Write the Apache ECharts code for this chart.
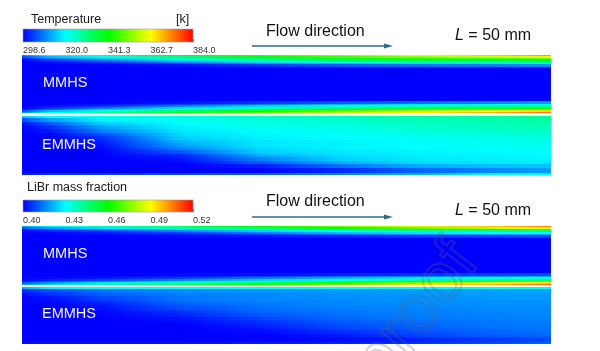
<!DOCTYPE html>
<html>
<head>
<meta charset="utf-8">
<script src="https://cdn.jsdelivr.net/npm/echarts@6/dist/echarts.min.js"></script>
<style>
  html, body { margin: 0; background: #fff; }
  #main { width: 600px; height: 351px; }
</style>
</head>
<body>
<div id="main"></div>
<script>
// stations along the channel (fraction of L) where each row was read
var xStations = [0, 0.05, 0.15, 0.3, 0.45, 0.6, 0.75, 0.9, 1];

// row edges, fraction of channel height measured from the top wall
var mmhsEdges = [0, 0.02, 0.045, 0.07, 0.1, 0.13, 0.16, 0.2, 0.8, 0.84, 0.87, 0.9, 0.93, 0.955, 0.98, 1];
var emmhsEdges = [0, 0.04, 0.1, 0.16, 0.22, 0.28, 0.34, 0.4, 0.46, 0.52, 0.58, 0.64, 0.7, 0.76, 0.82, 0.88, 0.96, 1];

var tempTicks = [298.6, 320.0, 341.3, 362.7, 384.0];
var librTicks = [0.40, 0.43, 0.46, 0.49, 0.52];

// temperature [K], MMHS
var mmhsTemp = [
  [310, 320, 328, 338, 346, 354, 361, 367, 371],
  [305, 314, 322, 332, 340, 347, 354, 359, 364],
  [301, 308, 316, 325, 333, 339, 344, 346, 350],
  [299, 303, 309, 318, 325, 331, 334, 335, 338],
  [298.6, 300, 303, 310, 317, 322, 326, 326, 329],
  [298.6, 298.6, 300, 304, 309, 314, 317, 318, 321],
  [298.6, 298.6, 298.6, 300, 303, 306, 308, 309, 311],
  [298.6, 298.6, 298.6, 298.6, 298.6, 298.6, 298.6, 298.6, 298.6],
  [298.6, 298.6, 298.6, 300, 303, 306, 308, 310, 312],
  [298.6, 298.6, 300, 304, 309, 314, 318, 320, 322],
  [298.6, 300, 303, 310, 317, 323, 327, 329, 331],
  [299, 303, 309, 318, 326, 332, 336, 338, 340],
  [301, 308, 316, 326, 334, 340, 346, 349, 352],
  [305, 314, 323, 333, 341, 349, 356, 362, 366],
  [310, 320, 329, 339, 348, 356, 364, 370, 375]
];

// temperature [K], EMMHS
var emmhsTemp = [
  [315, 320, 322, 323, 325, 326, 327, 328, 329],
  [305, 312, 319, 321, 323, 324, 326, 327, 328],
  [300, 306, 316, 320, 322, 323, 325, 326, 327],
  [299, 302, 312, 319, 321, 322, 324, 325, 326],
  [298.6, 300, 309, 318, 320, 321, 323, 324, 325],
  [298.6, 299, 305, 317, 319, 320, 322, 323, 324],
  [298.6, 298.6, 302.5, 316, 319, 320, 321, 322, 323],
  [298.6, 298.6, 301, 314, 318, 319, 320, 321, 322],
  [298.6, 298.6, 300, 312, 318, 319, 320, 321, 321],
  [298.6, 298.6, 299, 309.5, 317, 319, 320, 320, 321],
  [298.6, 298.6, 298.6, 306, 316, 318, 319, 320, 320],
  [298.6, 298.6, 298.6, 302, 313, 317, 319, 319, 320],
  [298.6, 298.6, 298.6, 300, 309.5, 316, 318, 319, 319],
  [298.6, 298.6, 298.6, 299, 306, 313, 317, 318, 318],
  [298.6, 298.6, 298.6, 298.6, 301, 308, 313, 315, 315],
  [298.6, 298.6, 298.6, 298.6, 299, 302, 307, 310, 312],
  [301, 303, 304, 305, 307, 310, 314, 320, 323]
];

// LiBr mass fraction, MMHS
var mmhsLibr = [
  [0.418, 0.428, 0.436, 0.448, 0.458, 0.472, 0.485, 0.497, 0.505],
  [0.410, 0.418, 0.426, 0.437, 0.447, 0.460, 0.472, 0.483, 0.490],
  [0.404, 0.410, 0.416, 0.426, 0.436, 0.446, 0.455, 0.462, 0.466],
  [0.401, 0.404, 0.408, 0.416, 0.425, 0.433, 0.440, 0.444, 0.446],
  [0.400, 0.401, 0.403, 0.408, 0.415, 0.422, 0.427, 0.430, 0.431],
  [0.400, 0.400, 0.401, 0.403, 0.407, 0.412, 0.416, 0.418, 0.419],
  [0.400, 0.400, 0.400, 0.401, 0.402, 0.404, 0.406, 0.407, 0.408],
  [0.400, 0.400, 0.400, 0.400, 0.400, 0.400, 0.400, 0.400, 0.400],
  [0.400, 0.400, 0.400, 0.401, 0.402, 0.404, 0.406, 0.408, 0.409],
  [0.400, 0.400, 0.401, 0.403, 0.407, 0.412, 0.416, 0.419, 0.421],
  [0.400, 0.401, 0.403, 0.408, 0.415, 0.422, 0.428, 0.432, 0.434],
  [0.401, 0.404, 0.408, 0.416, 0.425, 0.434, 0.442, 0.447, 0.450],
  [0.404, 0.410, 0.416, 0.427, 0.437, 0.447, 0.457, 0.465, 0.470],
  [0.410, 0.418, 0.427, 0.438, 0.448, 0.462, 0.475, 0.487, 0.494],
  [0.418, 0.428, 0.437, 0.450, 0.460, 0.474, 0.488, 0.500, 0.510]
];

// LiBr mass fraction, EMMHS
var emmhsLibr = [
  [0.420, 0.428, 0.430, 0.430, 0.431, 0.431, 0.432, 0.432, 0.433],
  [0.404, 0.408, 0.413, 0.416, 0.417, 0.418, 0.418, 0.419, 0.419],
  [0.401, 0.405, 0.411, 0.415, 0.416, 0.417, 0.418, 0.418, 0.418],
  [0.400, 0.402, 0.408, 0.414, 0.416, 0.417, 0.417, 0.418, 0.418],
  [0.400, 0.401, 0.405, 0.413, 0.415, 0.416, 0.417, 0.417, 0.417],
  [0.400, 0.400, 0.403, 0.411, 0.414, 0.416, 0.416, 0.417, 0.417],
  [0.400, 0.400, 0.402, 0.409, 0.413, 0.415, 0.416, 0.416, 0.416],
  [0.400, 0.400, 0.401, 0.406, 0.412, 0.414, 0.415, 0.416, 0.416],
  [0.400, 0.400, 0.400, 0.404, 0.410, 0.413, 0.415, 0.415, 0.416],
  [0.400, 0.400, 0.400, 0.402, 0.408, 0.412, 0.414, 0.415, 0.415],
  [0.400, 0.400, 0.400, 0.401, 0.406, 0.411, 0.413, 0.414, 0.415],
  [0.400, 0.400, 0.400, 0.400, 0.404, 0.409, 0.412, 0.414, 0.414],
  [0.400, 0.400, 0.400, 0.400, 0.402, 0.408, 0.411, 0.413, 0.414],
  [0.400, 0.400, 0.400, 0.400, 0.401, 0.405, 0.409, 0.412, 0.413],
  [0.400, 0.400, 0.400, 0.400, 0.400, 0.403, 0.408, 0.411, 0.412],
  [0.400, 0.400, 0.400, 0.400, 0.400, 0.401, 0.404, 0.407, 0.409],
  [0.402, 0.402, 0.402, 0.402, 0.403, 0.404, 0.406, 0.409, 0.412]
];

var rainbow = ['#0000ff', '#00ffff', '#00ff00', '#ffff00', '#ff0000'];
var font = 'Arial, "Liberation Sans", sans-serif';

function colorOf(v, lo, hi) {
  var t = (v - lo) / (hi - lo);
  return echarts.color.lerp(Math.max(0, Math.min(1, t)), rainbow);
}

// one rect per row, coloured along x with the values read at xStations
function fieldSeries(idx, edges, rows, lo, hi) {
  var data = rows.map(function (r, i) { return [edges[i], edges[i + 1], i]; });
  return {
    type: 'custom',
    xAxisIndex: idx,
    yAxisIndex: idx,
    silent: true,
    clip: true,
    data: data,
    encode: { y: [0, 1] },
    renderItem: function (params, api) {
      var i = api.value(2);
      var p0 = api.coord([0, api.value(0)]);
      var p1 = api.coord([1, api.value(1)]);
      var y0 = Math.round(p0[1]);
      var y1 = Math.round(p1[1]);
      var last = i === rows.length - 1;
      var stops = xStations.map(function (x, k) {
        return { offset: x, color: colorOf(rows[i][k], lo, hi) };
      });
      return {
        type: 'rect',
        z2: i,
        shape: { x: Math.round(p0[0]), y: y0, width: Math.round(p1[0]) - Math.round(p0[0]), height: Math.max(1, y1 - y0) + (last ? 0 : 1) },
        style: { fill: new echarts.graphic.LinearGradient(0, 0, 1, 0, stops) }
      };
    }
  };
}

function barSeries(idx, lo, hi) {
  return {
    type: 'custom',
    xAxisIndex: idx,
    yAxisIndex: idx,
    silent: true,
    data: [[lo, hi]],
    renderItem: function (params, api) {
      var p0 = api.coord([api.value(0), 1]);
      var p1 = api.coord([api.value(1), 0]);
      var stops = rainbow.map(function (c, k) {
        return { offset: k / (rainbow.length - 1), color: c };
      });
      return {
        type: 'rect',
        shape: { x: p0[0], y: p0[1], width: p1[0] - p0[0], height: p1[1] - p0[1] },
        style: { fill: new echarts.graphic.LinearGradient(0, 0, 1, 0, stops), stroke: '#a0a0a0', lineWidth: 0.6 }
      };
    }
  };
}

var panels = [
  { top: 55, height: 58 },
  { top: 116, height: 59 },
  { top: 226, height: 59 },
  { top: 287, height: 57 }
];

var grids = panels.map(function (p) {
  return { left: 22, width: 529, top: p.top, height: p.height };
});
grids.push({ left: 23, width: 170, top: 29, height: 13 });
grids.push({ left: 23, width: 170, top: 200, height: 12 });

var xAxes = panels.map(function (p, i) {
  return { gridIndex: i, type: 'value', min: 0, max: 1, show: false };
});
var yAxes = panels.map(function (p, i) {
  return { gridIndex: i, type: 'value', min: 0, max: 1, inverse: true, show: false };
});

function cbarAxis(idx, ticks, digits) {
  return {
    gridIndex: idx,
    type: 'value',
    min: ticks[0],
    max: ticks[ticks.length - 1],
    axisLine: { show: false },
    splitLine: { show: false },
    axisTick: { show: true, inside: true, length: 3, customValues: ticks, lineStyle: { color: '#555', width: 0.8 } },
    axisLabel: {
      customValues: ticks,
      formatter: function (v) { return v.toFixed(digits); },
      align: 'left',
      fontSize: 9,
      color: '#333',
      margin: 4,
      fontFamily: font
    }
  };
}
xAxes.push(cbarAxis(4, tempTicks, 1));
xAxes.push(cbarAxis(5, librTicks, 2));
yAxes.push({ gridIndex: 4, type: 'value', min: 0, max: 1, show: false });
yAxes.push({ gridIndex: 5, type: 'value', min: 0, max: 1, show: false });

function label(text, left, cy, size, color) {
  return {
    type: 'text', left: left, top: cy - size / 2 - 1, silent: true, z: 50,
    style: { text: text, fill: color, font: size + 'px ' + font }
  };
}
function lengthLabel(left, cy) {
  return {
    type: 'text', left: left, top: cy - 9, silent: true, z: 50,
    style: {
      text: '{i|L} = 50 mm', fill: '#111', font: '16px ' + font,
      rich: { i: { fontStyle: 'italic', fontSize: 16, fontFamily: font, fill: '#111' } }
    }
  };
}
function arrow(y) {
  return {
    type: 'group', silent: true, z: 50,
    children: [
      { type: 'line', shape: { x1: 252, y1: y, x2: 387, y2: y }, style: { stroke: '#2c6b8c', lineWidth: 1.5 } },
      { type: 'polygon', shape: { points: [[384, y - 2.6], [393, y], [384, y + 2.6]] }, style: { fill: '#2c6b8c' } }
    ]
  };
}

var myChart = echarts.init(document.getElementById('main'), null, { renderer: 'canvas' });
var option = {
  backgroundColor: '#ffffff',
  animation: false,
  grid: grids,
  xAxis: xAxes,
  yAxis: yAxes,
  series: [
    fieldSeries(0, mmhsEdges, mmhsTemp, 298.6, 384),
    fieldSeries(1, emmhsEdges, emmhsTemp, 298.6, 384),
    fieldSeries(2, mmhsEdges, mmhsLibr, 0.40, 0.52),
    fieldSeries(3, emmhsEdges, emmhsLibr, 0.40, 0.52),
    barSeries(4, 298.6, 384),
    barSeries(5, 0.40, 0.52)
  ],
  graphic: [
    label('Temperature', 31, 20, 12.5, '#1a1a1a'),
    label('[k]', 176, 20, 12.5, '#1a1a1a'),
    label('Flow direction', 266, 33, 16, '#111'),
    arrow(46),
    lengthLabel(455, 37),
    label('LiBr mass fraction', 27, 188, 12.5, '#1a1a1a'),
    label('Flow direction', 266, 203, 16, '#111'),
    arrow(217),
    lengthLabel(455, 212),
    label('MMHS', 43, 84, 14.5, '#f4f4ff'),
    label('EMMHS', 42, 146, 14.5, '#f4f4ff'),
    label('MMHS', 43, 255, 14.5, '#f4f4ff'),
    label('EMMHS', 42, 315, 14.5, '#f4f4ff'),
    {
      type: 'text', x: 493, y: 272, rotation: 0.92, silent: true, z: 100,
      style: {
        text: 'Journal Pre-proof', font: '70px ' + font, fill: 'transparent',
        stroke: 'rgba(100,100,100,0.28)', lineWidth: 2.2,
        align: 'right', verticalAlign: 'bottom'
      }
    }
  ]
};
myChart.setOption(option);
</script>
</body>
</html>
